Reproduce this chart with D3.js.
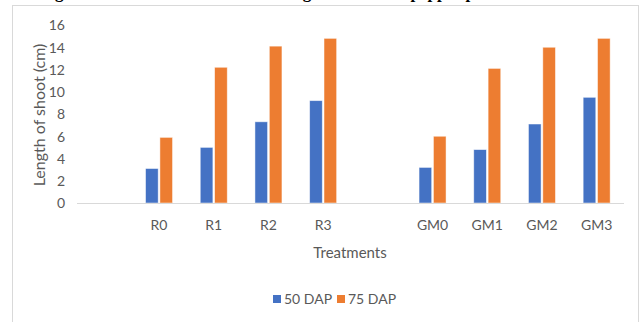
<!DOCTYPE html>
<html>
<head>
<meta charset="utf-8">
<script src="https://cdn.jsdelivr.net/npm/d3@7"></script>
<style>
  html, body { margin: 0; padding: 0; background: #fff; }
  svg { display: block; }
  .tick-label, .axis-title, .legend-label { font-family: "Lato", "Open Sans", sans-serif; fill: #595959; }
</style>
</head>
<body>
<svg id="chart" width="644" height="322"></svg>
<script>
// Treatments (blank slots keep the gaps between the two treatment groups)
const categories = ["", "R0", "R1", "R2", "R3", " ", "GM0", "GM1", "GM2", "GM3"];
const seriesNames = ["50 DAP", "75 DAP"];
const dap50 = [null, 3.1, 5.0, 7.3, 9.2, null, 3.2, 4.8, 7.1, 9.5];
const dap75 = [null, 5.9, 12.2, 14.1, 14.8, null, 6.0, 12.1, 14.0, 14.8];
const yTicks = [0, 2, 4, 6, 8, 10, 12, 14, 16];
const colors = ["#4472C4", "#ED7D31"];

const svg = d3.select("#chart");

// caption line sitting above the chart area (only its lower edge is on the page)
svg.append("text")
  .attr("x", 40).attr("y", -2)
  .attr("font-family", "Liberation Serif, serif")
  .attr("font-size", 17).attr("font-weight", "bold")
  .attr("fill", "#000")
  .text("Figure 2: Effect of treatments on length of shoot of pepper plants at 50 and 75 DAP");

// chart frame
svg.append("rect")
  .attr("x", 12.5).attr("y", 5.5)
  .attr("width", 626).attr("height", 330)
  .attr("fill", "#fff").attr("stroke", "#d9d9d9").attr("stroke-width", 1);

const x0 = d3.scaleBand().domain(categories).range([77, 624]).padding(0);
const y = d3.scaleLinear().domain([0, 16]).range([203, 25]);
const x1 = d3.scaleBand().domain(seriesNames).range([0, 27]).paddingInner(0.12);

const rows = categories.map((c, i) => ({ cat: c, vals: [dap50[i], dap75[i]] }));

// bars
const groups = svg.append("g").selectAll("g")
  .data(rows).join("g")
  .attr("transform", d => `translate(${x0(d.cat) + x0.bandwidth() / 2 - 13.5},0)`);

groups.selectAll("rect")
  .data(d => d.vals.map((v, k) => ({ v, k })).filter(e => e.v != null))
  .join("rect")
  .attr("x", e => x1(seriesNames[e.k]))
  .attr("width", x1.bandwidth())
  .attr("y", e => y(e.v))
  .attr("height", e => y(0) - y(e.v))
  .attr("fill", e => colors[e.k])
  .attr("stroke", "#ffffff").attr("stroke-opacity", 0.6).attr("stroke-width", 0.8);

// baseline
svg.append("line")
  .attr("x1", 77).attr("x2", 624)
  .attr("y1", y(0) + 0.5).attr("y2", y(0) + 0.5)
  .attr("stroke", "#d9d9d9").attr("stroke-width", 1);

// y axis labels
const yAxis = d3.axisLeft(y).tickValues(yTicks).tickSize(0).tickPadding(0);
const yg = svg.append("g").attr("transform", "translate(65,0)").call(yAxis);
yg.select(".domain").remove();
yg.selectAll("text")
  .attr("class", "tick-label")
  .attr("font-size", 14)
  .attr("dy", "0.35em");

// x axis labels
const xAxis = d3.axisBottom(x0).tickSize(0).tickPadding(0);
const xg = svg.append("g").attr("transform", `translate(0,${y(0)})`).call(xAxis);
xg.select(".domain").remove();
xg.selectAll("text")
  .attr("class", "tick-label")
  .attr("font-size", 14)
  .attr("y", 27).attr("dy", "0");

// axis titles
svg.append("text").attr("class", "axis-title")
  .attr("transform", "translate(45,115) rotate(-90)")
  .attr("text-anchor", "middle")
  .attr("font-size", 16)
  .text("Length of shoot (cm)");

svg.append("text").attr("class", "axis-title")
  .attr("x", 350).attr("y", 258)
  .attr("text-anchor", "middle")
  .attr("font-size", 15)
  .text("Treatments");

// legend
const legend = svg.append("g").attr("transform", "translate(273,294)");
const items = legend.selectAll("g").data(seriesNames).join("g")
  .attr("transform", (d, i) => `translate(${i * 64},0)`);
items.append("rect").attr("width", 8).attr("height", 8).attr("y", 1)
  .attr("fill", (d, i) => colors[i]);
items.append("text").attr("class", "legend-label")
  .attr("x", 11).attr("y", 10)
  .attr("font-size", 14)
  .text(d => d);
</script>
</body>
</html>
